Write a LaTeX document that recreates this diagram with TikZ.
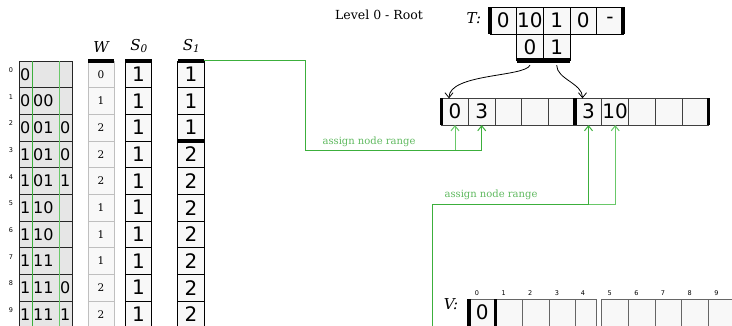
\documentclass[tikz,border=0pt]{standalone}
\usepackage{fontspec}
\setmainfont{DejaVu Serif}
\setsansfont{DejaVu Sans}
\usetikzlibrary{arrows.meta,positioning,calc}

\definecolor{gdark}{RGB}{60,175,60}
\definecolor{glight}{RGB}{105,200,105}
\definecolor{gtext}{RGB}{95,185,95}
\definecolor{cellfill}{RGB}{248,248,248}
\definecolor{tabfill}{RGB}{230,230,230}

\tikzset{
  cell/.style={draw=black, fill=cellfill, minimum width=26.7pt, minimum height=26.7pt,
    inner sep=0pt, outer sep=0pt, line width=0.8pt, font=\sffamily\fontsize{20}{20}\selectfont},
  wcell/.style={cell, draw=black!25, minimum width=26pt, font=\fontsize{10.5}{11}\selectfont},
  vcell/.style={cell, draw=black!60},
  rowbox/.style={draw=black!85, fill=tabfill, minimum width=53pt, minimum height=26.67pt,
    inner sep=0pt, outer sep=0pt, line width=0.8pt},
  rowtxt/.style={anchor=west, inner sep=0.5pt, font=\sffamily\fontsize{16}{16}\selectfont},
  bar/.style={line width=4.5pt, line cap=butt},
  gline/.style={gdark, line width=1pt},
  tip/.style={-{Straight Barb[length=5pt,width=8pt]}},
  head/.style={font=\fontsize{15}{15}\selectfont\itshape},
  idx/.style={inner sep=0pt, font=\sffamily\fontsize{6.5}{7}\selectfont},
  rangelbl/.style={text=gtext, inner sep=1pt, font=\fontsize{10}{10}\selectfont}
}

\begin{document}
\begin{tikzpicture}[x=1pt, y=-1pt]
    \clip (0,0) rectangle (732,325);

    % Bit table with row numbers
    \foreach \a/\b/\c [count=\i from 0] in {0//, 0/00/, 0/01/0, 1/01/0, 1/01/1,
        1/10/, 1/10/, 1/11/, 1/11/0, 1/11/1} {
        \node[rowbox] (r\i) at (45.5, 74.3+26.67*\i) {};
        \node[rowtxt] (ra\i) at (19.5, 74.3+26.67*\i) {\a};
        \node[rowtxt] (rb\i) at (32.5, 74.3+26.67*\i) {\b};
        \node[rowtxt] (rc\i) at (59.5, 74.3+26.67*\i) {\c};
        \node[idx] (ri\i) at (11, 70+26.67*\i) {\i};
    }
    \draw[gdark, line width=0.9pt] (32,61) -- (32,330);
    \draw[glight, line width=0.9pt] (59,61) -- (59,330);

    % Columns W, S_0, S_1
    \foreach \w/\s/\t [count=\i from 0] in {0/1/1, 1/1/1, 2/1/1, 2/1/2, 2/1/2,
        1/1/2, 1/1/2, 1/1/2, 2/1/2, 2/1/2} {
        \node[wcell] (w\i) at (101, 74.3+26.67*\i) {\w};
        \node[cell] (sa\i) at (138.5, 74.3+26.67*\i) {\s};
        \node[cell] (sb\i) at (191, 74.3+26.67*\i) {\t};
    }
    \node[head] (wh) at (101,47) {W};
    \node[head] (sah) at (139,46) {S\textsubscript{0}};
    \node[head] (sbh) at (191.5,46) {S\textsubscript{1}};
    \draw[bar] (w0.north west) -- (w0.north east);
    \draw[bar] (sa0.north west) -- (sa0.north east);
    \draw[bar] (sb0.north west) -- (sb0.north east);
    \draw[bar] (sb3.north west) -- (sb3.north east);

    % Root node
    \node[font=\fontsize{12.5}{13}\selectfont] (lvl) at (379,15) {Level 0 - Root};
    \node[head] (tl) at (474,18) {T:};
    \foreach \v [count=\i from 0] in {0,10,1,0,-}
        \node[cell] (T\i) at (503.3+26.67*\i, 20.7) {\v};
    \foreach \v [count=\i from 0] in {0,1}
        \node[cell] (Tc\i) at (530+26.67*\i, 47.3) {\v};
    \draw[bar, line width=4pt] (T0.north west) -- (T0.south west);
    \draw[bar, line width=4pt] (T4.north east) -- (T4.south east);
    \draw[bar] (Tc0.south west) -- (Tc1.south east);

    % Level 1 node array
    \foreach \v [count=\i from 0] in {0,3,{},{},{},3,10,{},{},{}}
        \node[cell, draw=black!75] (A\i) at (455+26.7*\i, 111.7) {\v};
    \draw[bar, line width=3.5pt] (A0.north west) -- (A0.south west);
    \draw[bar, line width=3.5pt] (A4.north east) -- (A4.south east);
    \draw[bar, line width=3.5pt] (A9.north east) -- (A9.south east);

    % Child pointers
    \draw[tip, line width=0.8pt] ([yshift=-4.5pt]Tc0.south) .. controls +(-5,12) and +(0,-25) .. ([xshift=-6pt]A0.north);
    \draw[tip, line width=0.8pt] ([yshift=-4.5pt]Tc1.south) .. controls +(0,14) and +(0,-15) .. ([xshift=-6pt]A5.north);

    % Assign node range
    \coordinate (g1) at (305,150);
    \draw[gline, tip] (sb0.north east) -| (g1) -| (A1.south);
    \draw[gline, glight, tip] (g1 -| A0.south) -- (A0.south);
    \node[rangelbl] (rng1) at (369,141.5) {assign node range};

    \coordinate (g2) at (432,204);
    \coordinate (vdown) at (432,330);
    \draw[gline, tip] (vdown) -- (g2) -| (A5.south);
    \draw[gline, glight, tip] (g2 -| A5.south) -| (A6.south);
    \node[rangelbl] (rng2) at (491,195) {assign node range};

    % Value array
    \node[head] (vl) at (451,304) {V:};
    \foreach \v [count=\i from 0] in {0,{},{},{}}
        \node[vcell] (V\i) at (482.3+26.67*\i, 312.7) {\v};
    \node[vcell, minimum width=21pt] (V4) at (585.5, 312.7) {};
    \foreach \i in {5,...,9}
        \node[vcell] (V\i) at (615+26.67*\i-133.35, 312.7) {};
    \foreach \i in {0,...,9}
        \node[idx] (vi\i) at ([xshift=8pt,yshift=6pt]V\i.north west) {\i};
    \draw[bar, line width=3.5pt] (V0.north west) -- (V0.south west);
    \draw[bar, line width=3.5pt] (V0.north east) -- (V0.south east);
\end{tikzpicture}
\end{document}
